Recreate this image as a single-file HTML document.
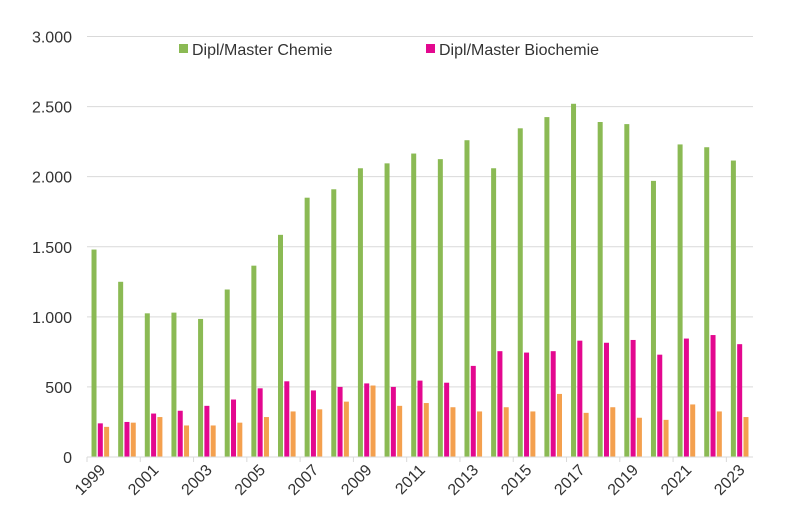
<!DOCTYPE html>
<html><head><meta charset="utf-8"><style>
body{margin:0;background:#fff;}
svg{display:block;font-family:"Liberation Sans",sans-serif;}
</style></head><body>
<svg id="chart" width="800" height="521">
<g id="grid"></g>
<g id="bars"></g>
<g id="yaxis"></g>
<g id="xaxis"></g>
<g>
<rect x="179" y="44" width="9" height="9" fill="#8bba54"/>
<text x="192" y="55" font-size="16" fill="#333">Dipl/Master Chemie</text>
<rect x="426" y="44" width="9" height="9" fill="#e3088f"/>
<text x="439" y="55" font-size="16" fill="#333">Dipl/Master Biochemie</text>
</g>
</svg>
<script>
const years=[1999,2000,2001,2002,2003,2004,2005,2006,2007,2008,2009,2010,2011,2012,2013,2014,2015,2016,2017,2018,2019,2020,2021,2022,2023];
const chemie=[1480,1250,1025,1030,985,1195,1365,1585,1850,1910,2060,2095,2165,2125,2260,2060,2345,2425,2520,2390,2375,1970,2230,2210,2115];
const biochemie=[240,250,310,330,365,410,490,540,475,500,525,500,545,530,650,755,745,755,830,815,835,730,845,870,805];
const third=[215,245,285,225,225,245,285,325,340,395,510,365,385,355,325,355,325,450,315,355,280,265,375,325,285];
const yTicks=[0,500,1000,1500,2000,2500,3000];
const yTickLabels=["0","500","1.000","1.500","2.000","2.500","3.000"];
const NS="http://www.w3.org/2000/svg";
const x0=87,x1=753,y0=457,yTop=36.5,yMax=3000;
const cw=(x1-x0)/years.length;
function yScale(v){return y0-(v/yMax)*(y0-yTop);}
function xCat(i){return x0+i*cw;}
function mk(tag,attrs,parent){const e=document.createElementNS(NS,tag);for(const k in attrs)e.setAttribute(k,attrs[k]);parent.appendChild(e);return e;}
const grid=document.getElementById('grid'),yax=document.getElementById('yaxis'),xax=document.getElementById('xaxis'),bars=document.getElementById('bars');
yTicks.forEach((t,i)=>{
  const y=yScale(t);
  if(t>0){const l=mk('line',{x1:x0,x2:x1,y1:y,y2:y,stroke:'#d9d9d9','stroke-width':1},grid);
  
  }
  const tx=mk('text',{x:72,y:y+6,'text-anchor':'end','font-size':16,fill:'#333'},yax);
  tx.textContent=yTickLabels[i];
  
  
});
const base=mk('line',{x1:x0,x2:x1,y1:y0,y2:y0,stroke:'#d9d9d9','stroke-width':1},xax);


const series=[[chemie,'#8bba54','bar-chemie'],[biochemie,'#e3088f','bar-biochemie'],[third,'#f4a04e','bar-third']];
const bw=5,gap=1.3;
years.forEach((yr,i)=>{
  const cx=xCat(i)+cw/2;
  const start=cx-(3*bw+2*gap)/2;
  series.forEach((s,j)=>{
    const v=s[0][i];const y=yScale(v);
    const r=mk('rect',{x:start+j*(bw+gap),y:y,width:bw,height:y0-y,fill:s[1]},bars);
    
    
  });
  if(i%2===0){
    const tk=mk('line',{x1:xCat(i),x2:xCat(i),y1:y0,y2:y0+5,stroke:'#d9d9d9'},xax);
    
    
    const tx=mk('text',{x:cx+6,y:y0+14,'text-anchor':'end','font-size':16,fill:'#333',transform:`rotate(-45 ${cx+6} ${y0+14})`},xax);
    tx.textContent=yr;
    
    
  }
});
</script>
</body></html>
